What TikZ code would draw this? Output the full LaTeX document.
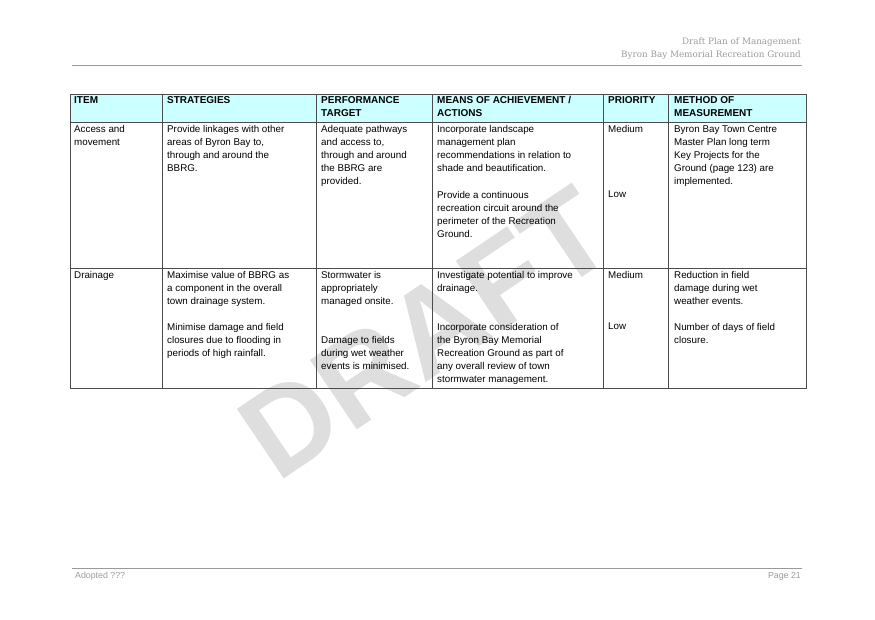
\documentclass[tikz,border=0pt]{standalone}
\usepackage{fontspec}
\setmainfont{Liberation Sans}
\newfontfamily\headfont{DejaVu Serif}
\usetikzlibrary{positioning}
\definecolor{headcyan}{HTML}{CCFFFF}
\definecolor{pagegray}{HTML}{9A9A9A}
\tikzset{
  cell/.style={anchor=north west, inner sep=0pt, align=left, font=\fontsize{9.8}{13}\selectfont},
  headcell/.style={cell, font=\fontsize{10}{13}\selectfont\bfseries},
  pagetext/.style={inner sep=0pt, text=pagegray, font=\headfont\fontsize{8.8}{13}\selectfont},
}
\begin{document}
\begin{tikzpicture}[x=1pt, y=-1pt]
  \useasboundingbox (0,0) rectangle (875,619);
  % Watermark
  \node [text=black!13, rotate=34, font=\fontsize{122}{122}\selectfont\bfseries] (draft) at (425,333) {DRAFT};
  % Page header and footer
  \node [pagetext, anchor=north east, align=right] (title) at (801,38) {Draft Plan of Management\\Byron Bay Memorial Recreation Ground};
  \draw [pagegray] (72,65) -- (802,65);
  \draw [pagegray] (72,568) -- (802,568);
  \node [pagetext, anchor=north west, font=\fontsize{8.8}{13}\selectfont] (adopted) at (75,572) {Adopted ???};
  \node [pagetext, anchor=north east, font=\fontsize{8.8}{13}\selectfont] (page) at (801,572) {Page 21};
  % Table
  \fill [headcyan] (70,94) rectangle (806,122);
  \draw [black!70] (70,94) rectangle (806,388);
  \draw [black!70] (70,122) -- (806,122);
  \draw [black!70] (70,268) -- (806,268);
  \foreach \x in {162,316,432,603,668}
    \draw [black!70] (\x,94) -- (\x,388);
  % Header cells
  \node [headcell] (hitem) at (74,96) {ITEM};
  \node [headcell] (hstrat) at (167,96) {STRATEGIES};
  \node [headcell] (hperf) at (321,96) {PERFORMANCE\\TARGET};
  \node [headcell] (hmeans) at (437,96) {MEANS OF ACHIEVEMENT /\\ACTIONS};
  \node [headcell] (hprio) at (608,96) {PRIORITY};
  \node [headcell] (hmeth) at (674,96) {METHOD OF\\MEASUREMENT};
  % Row 1
  \node [cell] (item1) at (74,125) {Access and\\movement};
  \node [cell] (strat1) at (167,125) {Provide linkages with other\\areas of Byron Bay to,\\through and around the\\BBRG.};
  \node [cell] (perf1) at (321,125) {Adequate pathways\\and access to,\\through and around\\the BBRG are\\provided.};
  \node [cell] (means1a) at (437,125) {Incorporate landscape\\management plan\\recommendations in relation to\\shade and beautification.};
  \node [cell] (means1b) at (437,191) {Provide a continuous\\recreation circuit around the\\perimeter of the Recreation\\Ground.};
  \node [cell] (prio1a) at (608,125) {Medium};
  \node [cell] (prio1b) at (608,191) {Low};
  \node [cell] (meth1) at (674,125) {Byron Bay Town Centre\\Master Plan long term\\Key Projects for the\\Ground (page 123) are\\implemented.};
  % Row 2
  \node [cell] (item2) at (74,271) {Drainage};
  \node [cell] (strat2a) at (167,271) {Maximise value of BBRG as\\a component in the overall\\town drainage system.};
  \node [cell] (strat2b) at (167,323) {Minimise damage and field\\closures due to flooding in\\periods of high rainfall.};
  \node [cell] (perf2a) at (321,271) {Stormwater is\\appropriately\\managed onsite.};
  \node [cell] (perf2b) at (321,336) {Damage to fields\\during wet weather\\events is minimised.};
  \node [cell] (means2a) at (437,271) {Investigate potential to improve\\drainage.};
  \node [cell] (means2b) at (437,323) {Incorporate consideration of\\the Byron Bay Memorial\\Recreation Ground as part of\\any overall review of town\\stormwater management.};
  \node [cell] (prio2a) at (608,271) {Medium};
  \node [cell] (prio2b) at (608,323) {Low};
  \node [cell] (meth2a) at (674,271) {Reduction in field\\damage during wet\\weather events.};
  \node [cell] (meth2b) at (674,323) {Number of days of field\\closure.};
\end{tikzpicture}
\end{document}
